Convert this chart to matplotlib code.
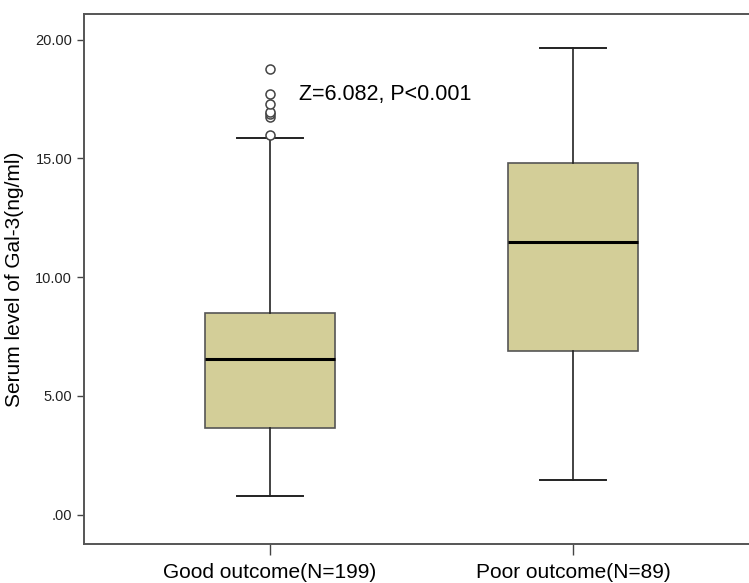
import matplotlib
matplotlib.use("Agg")
import matplotlib.pyplot as plt

plt.rcParams['font.family'] = ['Liberation Sans', 'DejaVu Sans']

# values
groups = ['Good outcome(N=199)', 'Poor outcome(N=89)']
whislo = [0.78, 1.48]
q1 = [3.64, 6.89]
med = [6.56, 11.49]
q3 = [8.51, 14.82]
whishi = [15.85, 19.65]
outliers_good = [15.99, 16.76, 16.85, 16.95, 17.28, 17.70, 18.77]
outliers_poor = []

stats = []
for i, name in enumerate(groups):
    stats.append({
        'label': name,
        'whislo': whislo[i], 'q1': q1[i], 'med': med[i],
        'q3': q3[i], 'whishi': whishi[i],
        'fliers': [outliers_good, outliers_poor][i],
    })

fig = plt.figure(figsize=(7.49, 5.83), dpi=100)
ax = fig.add_axes([84 / 749, 39 / 583, 675 / 749, 530 / 583])

ax.bxp(stats, positions=[1, 2], widths=0.43, capwidths=0.22,
       patch_artist=True,
       boxprops=dict(facecolor='#D3CE98', edgecolor='#555555', linewidth=1.2),
       medianprops=dict(color='black', linewidth=2.2),
       whiskerprops=dict(color='#222222', linewidth=1.2),
       capprops=dict(color='#222222', linewidth=1.4),
       flierprops=dict(marker='o', markersize=6.5, markerfacecolor='white',
                       markeredgecolor='#444444', markeredgewidth=1.1))

ax.set_xlim(0.386, 2.614)
ax.set_ylim(-1.23, 21.08)
ax.set_yticks([0, 5, 10, 15, 20])
ax.set_yticklabels(['.00', '5.00', '10.00', '15.00', '20.00'], fontsize=10.5,
                   color='#222222')
ax.set_xticks([1, 2])
ax.set_xticklabels(groups, fontsize=15)
ax.tick_params(axis='y', length=5, width=1, color='#444444')
ax.tick_params(axis='x', length=8, width=1, color='#444444', pad=6)
for s in ['left', 'top', 'bottom']:
    ax.spines[s].set_color('#555555')
    ax.spines[s].set_linewidth(1.4)
ax.spines['right'].set_visible(False)

ax.set_ylabel('Serum level of Gal-3(ng/ml)', fontsize=15, labelpad=8)
ax.text(1.096, 17.71, 'Z=6.082, P<0.001', fontsize=15.5, va='center', ha='left')

fig.savefig('out.png', dpi=100)
